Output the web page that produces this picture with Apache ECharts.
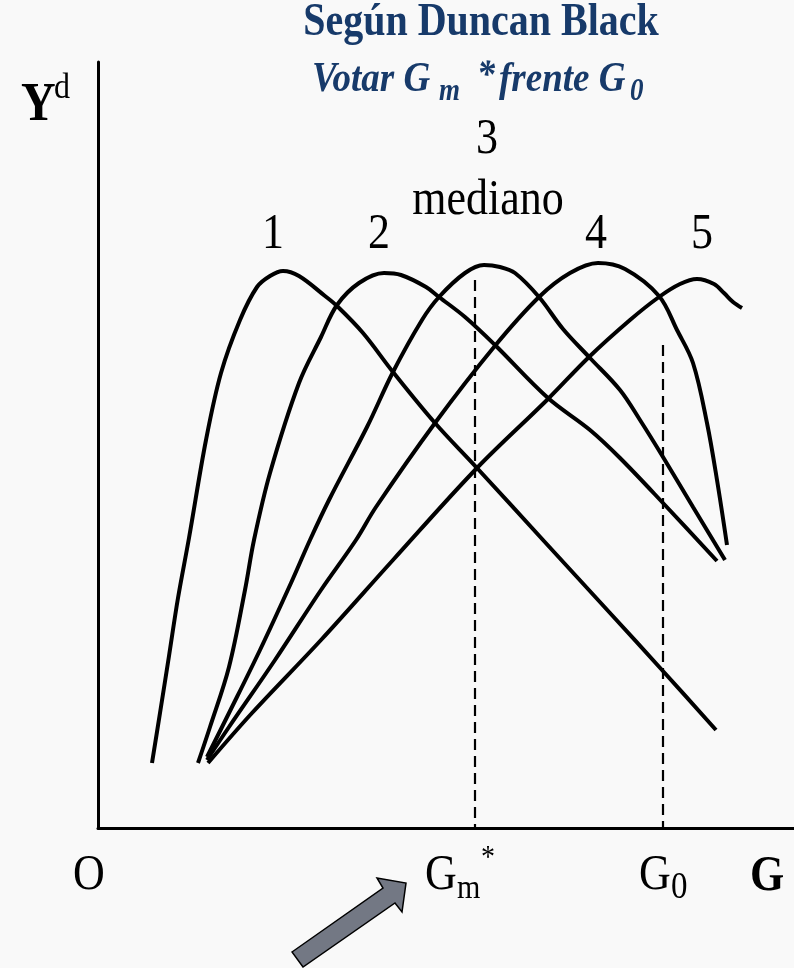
<!DOCTYPE html>
<html>
<head>
<meta charset="utf-8">
<script src="https://cdn.jsdelivr.net/npm/echarts@6/dist/echarts.min.js"></script>
<style>
  html, body { margin: 0; padding: 0; background: #f9f9f9; }
  #main { width: 794px; height: 968px; }
</style>
</head>
<body>
<div id="main"></div>
<script>
// Preference curves of the five voters: utility Y^d against spending G
const voter1 = [[54,65],[62,115],[71,172],[80,230],[91,290],[108,388],[123,455],[142,508],[159,541],[172,552],[185,557],[201,552],[227,532],[239,522],[265,495],[295,456],[337,405],[379,360],[445,288],[512,215],[564,158],[618,98]];
const voter2 = [[100,65],[112,101],[131,161],[147,238],[156,288],[172,355],[201,445],[223,491],[239,523],[261,545],[286,555],[303,553],[328,541],[341,531],[367,511],[397,483],[450,430],[492,398],[522,370],[565,325],[619,267]];
const voter3 = [[109,71],[131,115],[162,178],[193,245],[212,288],[231,328],[269,401],[295,456],[324,508],[341,531],[367,555],[386,563],[402,561],[417,555],[441,531],[465,499],[492,470],[522,438],[542,408],[565,371],[595,321],[627,268]];
const voter4 = [[109,68],[131,101],[177,168],[223,238],[258,288],[278,321],[337,405],[396,481],[441,531],[472,555],[500,565],[527,559],[561,532],[579,498],[595,465],[609,405],[619,348],[629,283]];
const voter5 = [[110,65],[154,115],[223,188],[295,268],[379,360],[449,428],[491,471],[532,508],[561,531],[582,544],[599,549],[616,544],[626,535],[635,526],[644,520]];

// Reference levels of spending: median choice G_m* and alternative G_0
const levelGm = [[377,548],[377,0]];
const levelG0 = [[565,483],[565,0]];

const voterNames = ['1', '2', '3', '4', '5'];
const titleLines = ['Según Duncan Black'];

const chart = echarts.init(document.getElementById('main'), null, { renderer: 'canvas' });

const SERIF = 'Liberation Serif';
const NAVY = '#173a6a';
const SY = 1.14;

function label(x, y, text, size, extra) {
  extra = extra || {};
  return {
    type: 'text',
    x: x, y: y,
    scaleY: SY,
    z: 20,
    style: Object.assign({
      text: text,
      fontFamily: SERIF,
      fontSize: size,
      fill: '#000',
      align: 'center',
      verticalAlign: 'middle'
    }, extra)
  };
}

function curve(name, data) {
  return {
    name: name,
    type: 'line',
    data: data,
    smooth: 0.35,
    symbol: 'none',
    lineStyle: { color: '#000', width: 4 },
    silent: true
  };
}

function level(data) {
  return {
    type: 'line',
    data: data,
    symbol: 'none',
    lineStyle: { color: '#000', width: 2.2, type: [11, 6] },
    silent: true
  };
}

chart.setOption({
  backgroundColor: '#f9f9f9',
  animation: false,
  grid: { left: 98, right: 0, top: 62, bottom: 140 },
  xAxis: {
    type: 'value', min: 0, max: 696,
    axisLine: { show: true, onZero: false, lineStyle: { color: '#000', width: 3 } },
    axisTick: { show: false }, axisLabel: { show: false }, splitLine: { show: false }
  },
  yAxis: {
    type: 'value', min: 0, max: 766,
    axisLine: { show: true, onZero: false, lineStyle: { color: '#000', width: 3 } },
    axisTick: { show: false }, axisLabel: { show: false }, splitLine: { show: false }
  },
  series: [
    level(levelGm),
    level(levelG0),
    curve(voterNames[0], voter1),
    curve(voterNames[1], voter2),
    curve(voterNames[2], voter3),
    curve(voterNames[3], voter4),
    curve(voterNames[4], voter5)
  ],
  graphic: [
    // heading
    label(481, 23, titleLines[0], 40, { fontWeight: 'bold', fill: NAVY }),
    label(312, 80, 'Votar G', 37, { fontStyle: 'italic', fontWeight: 'bold', fill: NAVY, align: 'left' }),
    label(439, 92, 'm', 27, { fontStyle: 'italic', fontWeight: 'bold', fill: NAVY, align: 'left' }),
    label(477, 76, '*', 36, { fontStyle: 'italic', fontWeight: 'bold', fill: NAVY, align: 'left' }),
    label(499, 80, 'frente G', 37, { fontStyle: 'italic', fontWeight: 'bold', fill: NAVY, align: 'left' }),
    label(630, 92, '0', 27, { fontStyle: 'italic', fontWeight: 'bold', fill: NAVY, align: 'left' }),

    // axis names
    label(21, 106, 'Y', 48, { fontWeight: 'bold', align: 'left' }),
    label(54, 88, 'd', 32, { align: 'left' }),
    label(89, 876, 'O', 44),
    label(750, 877, 'G', 44, { fontWeight: 'bold', align: 'left' }),

    // voter names above the peaks
    label(273, 235, voterNames[0], 44),
    label(379, 235, voterNames[1], 44),
    label(487, 140, voterNames[2], 44),
    label(488, 201, 'mediano', 44),
    label(596, 235, voterNames[3], 44),
    label(702, 235, voterNames[4], 44),

    // spending levels on the G axis
    label(425, 876, 'G', 44, { align: 'left' }),
    label(457, 889, 'm', 30, { align: 'left' }),
    label(481, 859, '*', 28, { align: 'left' }),
    label(639, 876, 'G', 44, { align: 'left' }),
    label(671, 888, '0', 33, { align: 'left' }),

    // pointer toward G_m*
    {
      type: 'polygon',
      z: 20,
      shape: { points: [[292,952],[383,888],[377,878],[406,883],[402,912],[395,903],[303,967]] },
      style: { fill: '#737884', stroke: '#000', lineWidth: 1.5, lineJoin: 'miter' }
    }
  ]
});
</script>
</body>
</html>
